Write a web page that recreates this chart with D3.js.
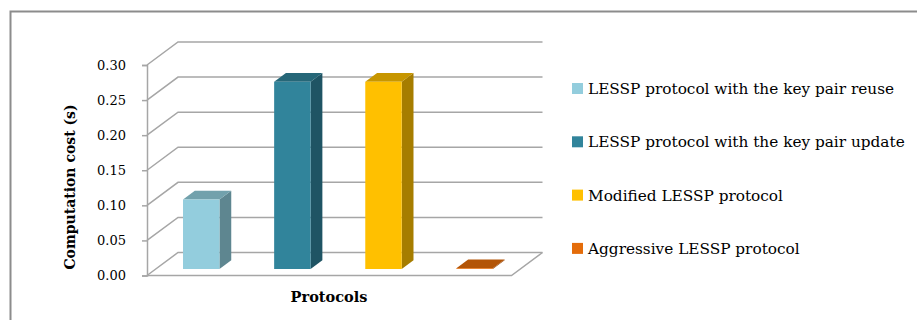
<!DOCTYPE html>
<html>
<head>
<meta charset="utf-8">
<script src="https://cdn.jsdelivr.net/npm/d3@7/dist/d3.min.js"></script>
<style>
  html, body { margin: 0; padding: 0; background: #fff; }
  svg { display: block; }
  text { font-family: "Palatino Linotype", "Book Antiqua", "DejaVu Serif", serif; fill: #000; }
</style>
</head>
<body>
<svg id="chart" width="917" height="320"></svg>
<script>
// Computation cost per protocol variant
const seriesNames = [
  "LESSP protocol with the key pair reuse",
  "LESSP protocol with the key pair update",
  "Modified LESSP protocol",
  "Aggressive LESSP protocol"
];
const seriesValues = [0.099, 0.267, 0.267, 0.001];
const tickValues = [0.00, 0.05, 0.10, 0.15, 0.20, 0.25, 0.30];
const frontColors = ["#93CDDD", "#31849B", "#FFC000", "#E46C0A"];
const sideColors  = ["#5E8690", "#1F5464", "#A67D00", "#96460A"];
const topColors   = ["#72A1AC", "#266778", "#C79600", "#B35507"];

const svg = d3.select("#chart");

// Outer chart frame
svg.append("rect")
  .attr("x", 10.5).attr("y", 11.5)
  .attr("width", 930).attr("height", 330)
  .attr("fill", "none").attr("stroke", "#8C8C8C").attr("stroke-width", 2);

// Oblique projection for the 3-D plot box
const left = 147, right = 511.5;
const depthX = 31, depthY = 23;
const y = d3.scaleLinear().domain([0, 0.30]).range([275.5, 65]);
const band = d3.scaleBand().domain(d3.range(seriesNames.length))
  .range([left, right]).paddingInner(0.6).paddingOuter(0.3);
const proj = (px, v, z) => [px + z * depthX, y(v) - z * depthY];
const gridColor = "#A6A6A6";

const grid = svg.append("g").attr("fill", "none")
  .attr("stroke", gridColor).attr("stroke-width", 1.5);

// Back wall gridlines and left wall diagonals
tickValues.forEach(t => {
  const a = proj(left, t, 0), b = proj(left, t, 1), c = proj(right, t, 1);
  grid.append("path").attr("d", `M${a}L${b}L${c}`);
});
// Floor outline
{
  const a = proj(left, 0, 0), b = proj(right, 0, 0), c = proj(right, 0, 1);
  grid.append("path").attr("d", `M${a}L${b}L${c}`);
}

// Bars (side, top, front faces)
const z0 = 0.28, z1 = 0.66;
const bars = svg.append("g");
seriesValues.forEach((v, i) => {
  const x0 = band(i), x1 = band(i) + band.bandwidth();
  const pts = (arr) => arr.map(p => proj(p[0], p[1], p[2]).join(",")).join(" ");
  bars.append("polygon")
    .attr("points", pts([[x1, 0, z0], [x1, 0, z1], [x1, v, z1], [x1, v, z0]]))
    .attr("fill", sideColors[i]);
  bars.append("polygon")
    .attr("points", pts([[x0, v, z0], [x1, v, z0], [x1, v, z1], [x0, v, z1]]))
    .attr("fill", topColors[i]);
  bars.append("polygon")
    .attr("points", pts([[x0, 0, z0], [x1, 0, z0], [x1, v, z0], [x0, v, z0]]))
    .attr("fill", frontColors[i]);
});

// Front value axis with ticks
const axis = svg.append("g").attr("transform", `translate(${left},0)`)
  .call(d3.axisLeft(y).tickValues(tickValues).tickSize(5).tickPadding(16)
    .tickFormat(d3.format(".2f")));
axis.select(".domain").attr("stroke", gridColor).attr("stroke-width", 1.5);
axis.selectAll(".tick line").attr("stroke", gridColor).attr("stroke-width", 1.5);
axis.selectAll(".tick text")
  .style("font-family", "'Palatino Linotype','Book Antiqua','DejaVu Serif',serif")
  .style("font-size", "13px").attr("fill", "#000");

// Axis titles
svg.append("text")
  .attr("transform", "translate(75,187) rotate(-90)")
  .attr("text-anchor", "middle")
  .style("font-size", "14px").style("font-weight", "bold")
  .text("Computation cost (s)");
svg.append("text")
  .attr("x", 329).attr("y", 302)
  .attr("text-anchor", "middle")
  .style("font-size", "14.5px").style("font-weight", "bold")
  .text("Protocols");

// Legend
const legend = svg.append("g");
seriesNames.forEach((name, i) => {
  const cy = 88.5 + i * 53.3;
  legend.append("rect")
    .attr("x", 572).attr("y", cy - 5.5).attr("width", 11).attr("height", 11)
    .attr("fill", frontColors[i]);
  legend.append("text")
    .attr("x", 588).attr("y", cy + 5.5)
    .style("font-size", "15.3px")
    .text(name);
});
</script>
</body>
</html>
